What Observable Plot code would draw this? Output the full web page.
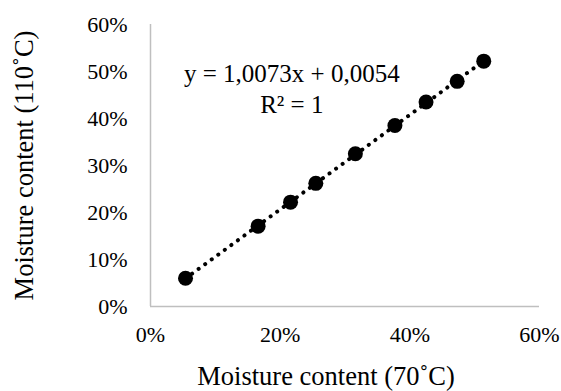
<!DOCTYPE html>
<html>
<head>
<meta charset="utf-8">
<script src="https://cdn.jsdelivr.net/npm/d3@7"></script>
<script src="https://cdn.jsdelivr.net/npm/@observablehq/plot@0.6"></script>
<style>
  html, body { margin: 0; padding: 0; background: #fff; }
</style>
</head>
<body>
<div id="chart"></div>
<script>
// Data (moisture content, %)
const moisture70 = [5.4, 16.6, 21.6, 25.5, 31.6, 37.7, 42.5, 47.3, 51.4];
const moisture110 = [6.0, 17.1, 22.2, 26.2, 32.5, 38.5, 43.5, 47.9, 52.2];
const xTicks = [0, 20, 40, 60];
const yTicks = [0, 10, 20, 30, 40, 50, 60];
const xTitle = "Moisture content (70˚C)";
const yTitle = "Moisture content (110˚C)";
const equationText = ["y = 1,0073x + 0,0054", "R² = 1"];
const equationAt = [21.8, 46.6];

const data = moisture70.map((x, i) => ({x, y: moisture110[i]}));

const chart = Plot.plot({
  width: 561,
  height: 391,
  marginLeft: 150,
  marginRight: 22,
  marginTop: 24,
  marginBottom: 85,
  style: {fontFamily: "'Liberation Serif', 'Times New Roman', serif", fontSize: "22px", color: "#000", background: "#fff"},
  x: {domain: [0, 60]},
  y: {domain: [0, 60]},
  marks: [
    Plot.ruleY([0], {stroke: "#bfbfbf", strokeWidth: 1.5}),
    Plot.ruleX([0], {stroke: "#bfbfbf", strokeWidth: 1.5}),
    Plot.axisX({ticks: xTicks, tickSize: 0, tickPadding: 20, tickFormat: d => d + "%", label: null, fontSize: 22}),
    Plot.axisY({ticks: yTicks, tickSize: 0, tickPadding: 23, tickFormat: d => d + "%", label: null, fontSize: 22}),
    Plot.linearRegressionY(data, {x: "x", y: "y", ci: 0, stroke: "#000", strokeWidth: 4, strokeDasharray: "0.1 8", strokeLinecap: "round", strokeOpacity: 1}),
    Plot.dot(data, {x: "x", y: "y", r: 7.5, fill: "#000", stroke: "none"}),
    Plot.text([equationText.join("\n")], {x: equationAt[0], y: equationAt[1], textAnchor: "middle", lineHeight: 1.25, fontSize: 25, fill: "#000"}),
    Plot.text([xTitle], {frameAnchor: "bottom", dy: 78, dx: -19, fontSize: 26.5, fill: "#000"}),
    Plot.text([yTitle], {frameAnchor: "left", dx: -126, rotate: -90, textAnchor: "middle", fontSize: 26.5, fill: "#000"})
  ]
});
document.getElementById("chart").appendChild(chart);
</script>
</body>
</html>
